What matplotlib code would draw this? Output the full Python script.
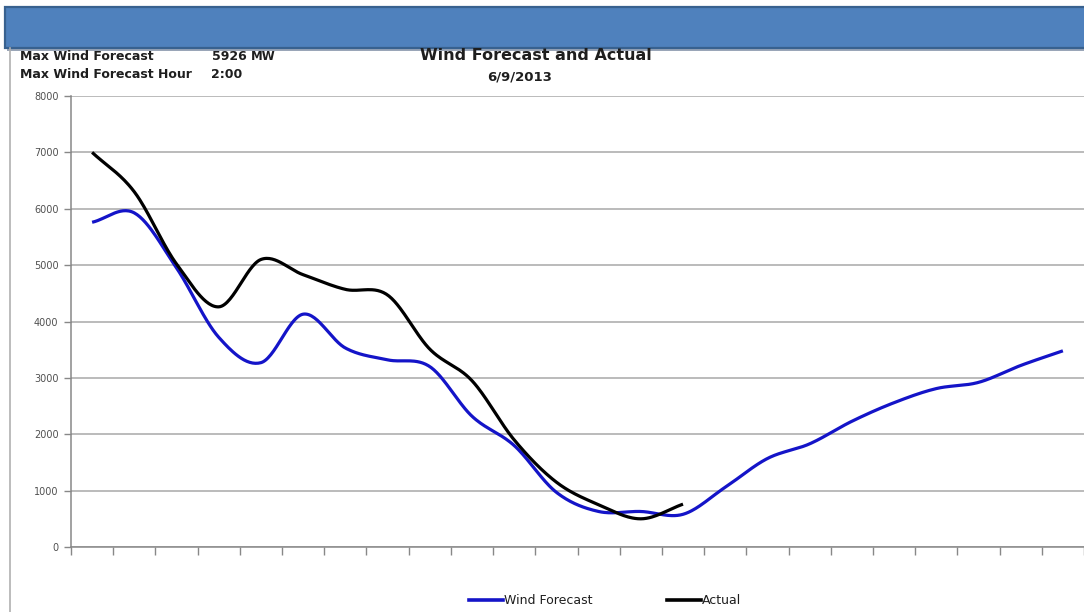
import numpy as np
import matplotlib
matplotlib.use("Agg")
import matplotlib.pyplot as plt
from matplotlib.patches import Rectangle
from matplotlib.lines import Line2D

hours = list(range(1, 25))
forecast = [5760, 5926, 4950, 3720, 3270, 4130, 3530, 3320, 3200, 2320, 1800, 970,
            630, 630, 580, 1060, 1570, 1830, 2230, 2560, 2810, 2920, 3220, 3480]
actual_hours = list(range(1, 16))
actual = [7000, 6300, 5020, 4260, 5100, 4830, 4570, 4470, 3510, 2950, 1900, 1150,
          750, 500, 760]
yticks = [0, 1000, 2000, 3000, 4000, 5000, 6000, 7000, 8000]
max_forecast = "5926"
max_hour = "2:00"
title = "Wind Forecast and Actual"
date = "6/9/2013"


def smooth(xs, ys, n=30):
    x = np.asarray(xs, float)
    y = np.asarray(ys, float)
    px = np.concatenate([[2 * x[0] - x[1]], x, [2 * x[-1] - x[-2]]])
    py = np.concatenate([[2 * y[0] - y[1]], y, [2 * y[-1] - y[-2]]])
    outx, outy = [], []
    for i in range(1, len(px) - 2):
        t = np.linspace(0, 1, n, endpoint=False)
        p0, p1, p2, p3 = py[i - 1], py[i], py[i + 1], py[i + 2]
        q0, q1, q2, q3 = px[i - 1], px[i], px[i + 1], px[i + 2]
        b1y = p1 + (p2 - p0) / 6
        b2y = p2 - (p3 - p1) / 6
        b1x = q1 + (q2 - q0) / 6
        b2x = q2 - (q3 - q1) / 6
        yy = (1 - t) ** 3 * p1 + 3 * (1 - t) ** 2 * t * b1y + 3 * (1 - t) * t ** 2 * b2y + t ** 3 * p2
        xx = (1 - t) ** 3 * q1 + 3 * (1 - t) ** 2 * t * b1x + 3 * (1 - t) * t ** 2 * b2x + t ** 3 * q2
        outx.extend(xx)
        outy.extend(yy)
    outx.append(x[-1])
    outy.append(y[-1])
    return np.array(outx), np.array(outy)


plt.rcParams['font.family'] = ['DejaVu Sans']
W, H = 1084, 612
fig = plt.figure(figsize=(W / 100, H / 100), dpi=100)
fig.patch.set_facecolor('white')

# blue banner
fig.patches.append(Rectangle((7 / W, 1 - 51 / H), 1.0, 43 / H, transform=fig.transFigure,
                             facecolor='#9aa6b8', edgecolor='none', zorder=0))
fig.patches.append(Rectangle((5 / W, 1 - 48 / H), 1.0, 41 / H, transform=fig.transFigure,
                             facecolor='#4F81BD', edgecolor='#38618f', linewidth=1.6, zorder=1))
# left border line of chart area
fig.add_artist(Line2D([9.5 / W, 9.5 / W], [0, 1 - 48 / H], transform=fig.transFigure,
                      color='#b0b0b0', linewidth=1.2))

ax = fig.add_axes([71 / W, (H - 547) / H, (1084 - 71) / W, (547 - 96) / H])
ax.set_xlim(0.5, 24.5)
ax.set_ylim(0, 8000)

sx, sy = smooth(hours, forecast)
ax.plot(sx, sy, color='#1414c8', linewidth=2.3, solid_capstyle='butt', zorder=3)
ax2x, ax2y = smooth(actual_hours, actual)
ax.plot(ax2x, ax2y, color='#000000', linewidth=2.3, solid_capstyle='butt', zorder=4)

ax.set_yticks(yticks)
ax.set_yticklabels([str(v) for v in yticks], fontsize=7, color='#505050')
ax.set_xticks(np.arange(0.5, 25.0, 1.0))
ax.set_xticklabels([])
ax.grid(axis='y', color='#a8a8a8', linewidth=1.1)
ax.set_axisbelow(True)
ax.tick_params(axis='y', direction='out', length=5, width=1, color='#888888', pad=4)
ax.tick_params(axis='x', direction='out', length=6, width=1, color='#888888')
for s in ['top', 'right']:
    ax.spines[s].set_visible(False)
for s in ['left', 'bottom']:
    ax.spines[s].set_color('#888888')
    ax.spines[s].set_linewidth(1.1)

# header texts
tc = '#1e1e1e'
fig.text(20 / W, 1 - 60.5 / H, "Max Wind Forecast", fontsize=9, fontweight='bold',
         color=tc, va='baseline', ha='left')
fig.text(212 / W, 1 - 60.5 / H, max_forecast, fontsize=9, fontweight='bold',
         color=tc, va='baseline', ha='left')
fig.text(251 / W, 1 - 60.5 / H, "MW", fontsize=8.5, fontweight='bold',
         color=tc, va='baseline', ha='left')
fig.text(20 / W, 1 - 78 / H, "Max Wind Forecast Hour", fontsize=9, fontweight='bold',
         color=tc, va='baseline', ha='left')
fig.text(211 / W, 1 - 78 / H, max_hour, fontsize=9, fontweight='bold',
         color=tc, va='baseline', ha='left')
fig.text(536 / W, 1 - 60 / H, title, fontsize=11.5, fontweight='bold',
         color=tc, va='baseline', ha='center')
fig.text(520 / W, 1 - 81 / H, date, fontsize=9.5, fontweight='bold',
         color=tc, va='baseline', ha='center')

handles = [Line2D([], [], color='#1414c8', linewidth=2.6),
           Line2D([], [], color='#000000', linewidth=2.6)]
fig.legend(handles, ["Wind Forecast", "Actual"], loc='center', bbox_to_anchor=(605 / W, 11 / H),
           ncol=2, frameon=False, fontsize=9, handlelength=2.7, handletextpad=0.05,
           columnspacing=6.0, labelcolor=tc)

fig.savefig("out.png", dpi=100, facecolor='white')
